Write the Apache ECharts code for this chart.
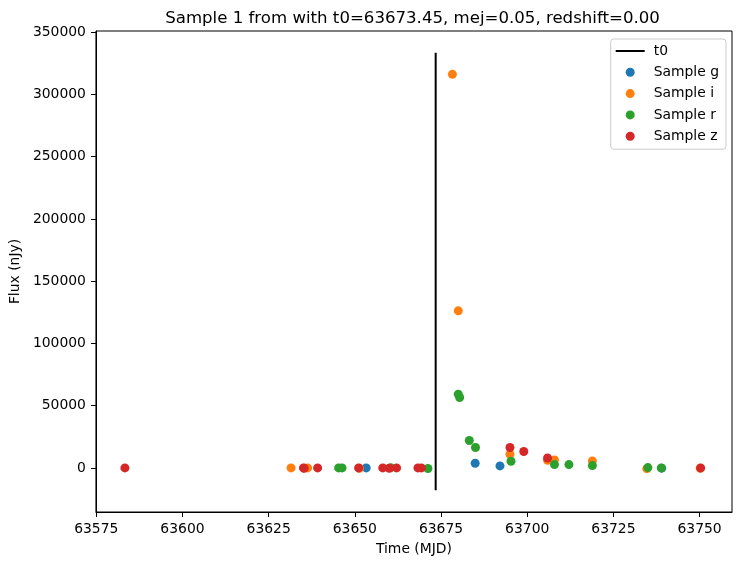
<!DOCTYPE html>
<html>
<head>
<meta charset="utf-8">
<script src="https://cdn.jsdelivr.net/npm/echarts@6/dist/echarts.min.js"></script>
<style>
  html, body { margin: 0; padding: 0; background: #fff; }
  #chart { width: 741px; height: 565px; }
</style>
</head>
<body>
<div id="chart"></div>
<script>
// observations per band: [time (MJD), flux (nJy)]
const sampleG = [
  [63653.3, 0], [63684.9, 3800], [63692.1, 1600], [63739.0, -200]
];
const sampleI = [
  [63631.5, 0], [63636.3, 0], [63651.3, -300], [63678.3, 316200], [63680.0, 126200],
  [63695.0, 11000], [63705.9, 6200], [63707.9, 6400], [63718.9, 5600],
  [63734.7, -600], [63750.2, -300]
];
const sampleR = [
  [63645.3, 0], [63646.3, 0], [63660.4, 200], [63671.2, -500], [63680.0, 59200],
  [63680.4, 56600], [63683.2, 22000], [63685.0, 16400], [63695.3, 5400],
  [63707.9, 2700], [63712.1, 2700], [63718.9, 1900], [63735.0, 300],
  [63738.9, 0]
];
const sampleZ = [
  [63583.3, 0], [63635.1, 0], [63635.3, -300], [63639.2, 0], [63651.1, 0], [63658.1, 0],
  [63660.0, -300], [63662.1, 0], [63668.3, 0], [63669.3, 0], [63695.0, 16400],
  [63699.0, 13200], [63705.9, 8000], [63750.3, 0]
];
const t0 = 63673.45;
const t0Span = [-18000, 333500];

const xTicks = [63575, 63600, 63625, 63650, 63675, 63700, 63725, 63750];
const yTicks = [0, 50000, 100000, 150000, 200000, 250000, 300000, 350000];

const FONT = 'DejaVu Sans';
const FS = 13.9;

const chart = echarts.init(document.getElementById('chart'), null, { renderer: 'canvas' });

function scatter(name, data, color) {
  return {
    name: name,
    type: 'scatter',
    data: data,
    symbol: 'circle',
    symbolSize: 9,
    itemStyle: { color: color, opacity: 1 },
    emphasis: { disabled: true }
  };
}

const plain = v => String(v);

const option = {
  animation: false,
  backgroundColor: '#fff',
  textStyle: { fontFamily: FONT },
  title: {
    text: 'Sample 1 from with t0=63673.45, mej=0.05, redshift=0.00',
    left: 407.5,
    top: 5,
    textAlign: 'center',
    textStyle: { fontFamily: FONT, fontSize: 16.6, fontWeight: 'normal', color: '#000' }
  },
  grid: {
    left: 92, right: 9, top: 31, bottom: 53,
    show: true, borderColor: '#000', borderWidth: 1, backgroundColor: '#fff'
  },
  legend: {
    orient: 'vertical',
    right: 15,
    top: 39,
    padding: [5, 7, 6, 4],
    itemWidth: 29,
    itemHeight: 9,
    itemGap: 7.3,
    borderColor: '#ccc',
    borderWidth: 1,
    borderRadius: 3,
    backgroundColor: 'rgba(255,255,255,0.8)',
    textStyle: { fontFamily: FONT, fontSize: FS, color: '#000', padding: [0, 0, 0, 4] },
    data: [
      { name: 't0', itemStyle: { opacity: 0 } },
      { name: 'Sample g', icon: 'circle' },
      { name: 'Sample i', icon: 'circle' },
      { name: 'Sample r', icon: 'circle' },
      { name: 'Sample z', icon: 'circle' }
    ]
  },
  xAxis: {
    type: 'value',
    min: 63574.9,
    max: 63759.4,
    name: 'Time (MJD)',
    nameLocation: 'middle',
    nameGap: 30,
    nameTextStyle: { fontFamily: FONT, fontSize: FS, color: '#000' },
    axisLine: { show: true, onZero: false, lineStyle: { color: '#000', width: 1 } },
    axisTick: { show: true, length: 5, lineStyle: { color: '#000' }, customValues: xTicks },
    axisLabel: { fontFamily: FONT, fontSize: FS, color: '#000', margin: 10, formatter: plain, customValues: xTicks },
    splitLine: { show: false }
  },
  yAxis: {
    type: 'value',
    min: -35400,
    max: 351000,
    name: 'Flux (nJy)',
    nameLocation: 'middle',
    nameRotate: 90,
    nameGap: 63,
    nameTextStyle: { fontFamily: FONT, fontSize: FS, color: '#000' },
    axisLine: { show: true, onZero: false, lineStyle: { color: '#000', width: 1 } },
    axisTick: { show: true, length: 5, lineStyle: { color: '#000' }, customValues: yTicks },
    axisLabel: { fontFamily: FONT, fontSize: FS, color: '#000', margin: 10, formatter: plain, customValues: yTicks },
    splitLine: { show: false }
  },
  series: [
    {
      name: 't0',
      type: 'line',
      data: [[t0, t0Span[0]], [t0, t0Span[1]]],
      symbol: 'none',
      lineStyle: { color: '#000', width: 2 },
      itemStyle: { color: '#000' },
      emphasis: { disabled: true }
    },
    scatter('Sample g', sampleG, '#1f77b4'),
    scatter('Sample i', sampleI, '#ff7f0e'),
    scatter('Sample r', sampleR, '#2ca02c'),
    scatter('Sample z', sampleZ, '#d62728')
  ]
};

chart.setOption(option);
</script>
</body>
</html>
